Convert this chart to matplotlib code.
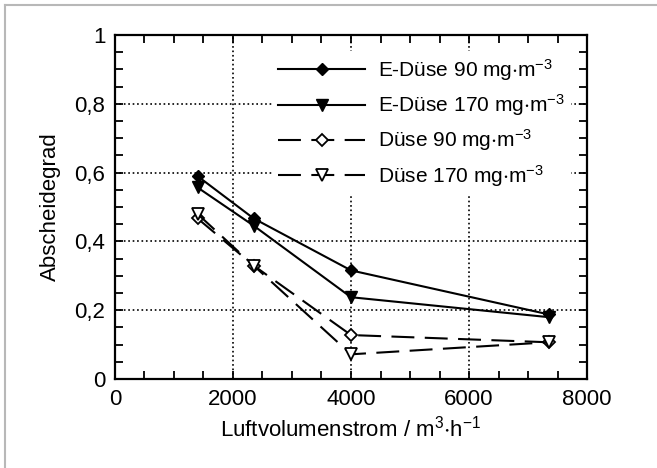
import numpy as np
import matplotlib
matplotlib.use('Agg')
import matplotlib.pyplot as plt
from matplotlib.ticker import MultipleLocator, FuncFormatter
from matplotlib.lines import Line2D

plt.rcParams['font.family'] = ['Liberation Sans', 'DejaVu Sans']
plt.rcParams['mathtext.default'] = 'regular'

# Luftvolumenstrom in m3/h
flow = [1400, 2350, 4000, 7350]

# Abscheidegrad
e_duese_90 = [0.59, 0.467, 0.316, 0.188]
e_duese_170 = [0.557, 0.446, 0.238, 0.18]
duese_90 = [0.467, 0.33, 0.128, 0.107]
duese_170 = [0.48, 0.33, 0.072, 0.107]

labels = ['E-Düse 90 mg$\\cdot$m$^{-3}$', 'E-Düse 170 mg$\\cdot$m$^{-3}$',
          'Düse 90 mg$\\cdot$m$^{-3}$', 'Düse 170 mg$\\cdot$m$^{-3}$']

fig = plt.figure(figsize=(6.57, 4.68), dpi=100)
ax = fig.add_axes([0.175, 0.19, 0.7185, 0.735])

dash = (11, 5)
ax.plot(flow, e_duese_90, color='black', lw=1.5, marker='D', ms=6, mfc='black', label=labels[0])
ax.plot(flow, e_duese_170, color='black', lw=1.5, marker='v', ms=8, mfc='black', label=labels[1])
ax.plot(flow, duese_90, color='black', lw=1.5, dashes=dash, marker='D', ms=6, mfc='white', mew=1.3, label=labels[2])
ax.plot(flow, duese_170, color='black', lw=1.5, dashes=dash, marker='v', ms=8, mfc='white', mew=1.3, label=labels[3])

ax.set_xlim(0, 8000)
ax.set_ylim(0, 1)
ax.xaxis.set_major_locator(MultipleLocator(2000))
ax.xaxis.set_minor_locator(MultipleLocator(500))
ax.yaxis.set_major_locator(MultipleLocator(0.2))
ax.yaxis.set_minor_locator(MultipleLocator(0.05))


def comma_fmt(v, pos):
    s = '%g' % round(v, 2)
    return s.replace('.', ',')


ax.yaxis.set_major_formatter(FuncFormatter(comma_fmt))

ax.tick_params(which='both', direction='in', top=True, right=True, length=6, width=1.3,
               labelsize=16, pad=7)
ax.grid(True, which='major', color='black', linestyle=':', lw=1.2)
for sp in ax.spines.values():
    sp.set_linewidth(1.6)

ax.set_xlabel('Luftvolumenstrom / m$^{3}$$\\cdot$h$^{-1}$', fontsize=16, labelpad=4)
ax.set_ylabel('Abscheidegrad', fontsize=16, labelpad=10)

leg = ax.legend(loc='upper left', bbox_to_anchor=(0.31, 0.985), fontsize=15,
                handlelength=4.2, labelspacing=0.45, handletextpad=0.6,
                frameon=True, fancybox=False, borderpad=0.3)
leg.get_frame().set_facecolor('white')
leg.get_frame().set_edgecolor('none')
leg.get_frame().set_alpha(1)

# light grey frame lines at top and left like in the original scan
fig.add_artist(Line2D([5 / 657, 5 / 657], [0, 1 - 5 / 468], color='#b8b8b8', lw=1.5))
fig.add_artist(Line2D([5 / 657, 1], [1 - 5 / 468, 1 - 5 / 468], color='#b8b8b8', lw=1.5))

fig.savefig('out.png', dpi=100)
